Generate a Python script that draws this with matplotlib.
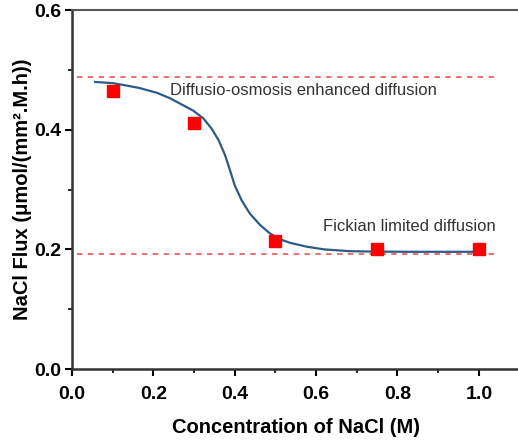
import matplotlib
matplotlib.use("Agg")
from matplotlib import pyplot as plt
from matplotlib.ticker import MultipleLocator

plt.rcParams["font.family"] = ["Liberation Sans", "DejaVu Sans"]

# measured points
conc = [0.1, 0.3, 0.5, 0.75, 1.0]
flux = [0.465, 0.411, 0.214, 0.2005, 0.200]

# fitted curve
fit_x = [0.057, 0.100, 0.126, 0.165, 0.208, 0.240, 0.265, 0.298, 0.323, 0.343,
         0.360, 0.376, 0.388, 0.400, 0.417, 0.437, 0.462, 0.486, 0.511, 0.536,
         0.577, 0.620, 0.683, 0.750, 0.850, 1.000]
fit_y = [0.480, 0.478, 0.475, 0.470, 0.462, 0.453, 0.444, 0.432, 0.419, 0.402,
         0.383, 0.358, 0.333, 0.307, 0.282, 0.260, 0.241, 0.227, 0.217, 0.211,
         0.2045, 0.200, 0.197, 0.1963, 0.196, 0.196]

# regime reference levels
upper_level = 0.489
lower_level = 0.193
level_span = [0.012, 1.045]

fig = plt.figure(figsize=(5.18, 4.43), dpi=100)
ax = fig.add_axes([0.139, 0.167, 0.864, 0.810])

ax.plot(level_span, [upper_level, upper_level], color="#e86462", linestyle=(0, (3, 3)), linewidth=1.3)
ax.plot(level_span, [lower_level, lower_level], color="#e86462", linestyle=(0, (3, 3)), linewidth=1.3)
ax.plot(fit_x, fit_y, color="#2d5b86", linewidth=1.6, solid_joinstyle="round")
ax.plot(conc, flux, linestyle="none", marker="s", markersize=9, color="#ff0000")

ax.text(0.24, 0.466, "Diffusio-osmosis enhanced diffusion", fontsize=12, color="#333333",
        ha="left", va="center")
ax.text(0.617, 0.238, "Fickian limited diffusion", fontsize=12, color="#333333",
        ha="left", va="center")

ax.set_xlim(0, 1.1)
ax.set_ylim(0, 0.6)
ax.xaxis.set_minor_locator(MultipleLocator(0.1))
ax.yaxis.set_major_locator(MultipleLocator(0.2))
ax.yaxis.set_minor_locator(MultipleLocator(0.1))
ax.set_xticks([0.0, 0.2, 0.4, 0.6, 0.8, 1.0])
ax.tick_params(which="major", direction="out", length=5, width=1.5, labelsize=14)
ax.tick_params(axis="x", which="major", pad=7)
ax.tick_params(axis="y", which="major", pad=3)
ax.tick_params(which="minor", direction="out", length=3, width=1.2)
for lab in ax.get_xticklabels() + ax.get_yticklabels():
    lab.set_fontweight("bold")

ax.spines["right"].set_visible(False)
for side in ("left", "bottom"):
    ax.spines[side].set_linewidth(1.8)
    ax.spines[side].set_color("#333333")
ax.spines["top"].set_linewidth(1.5)
ax.spines["top"].set_color("#555555")

ax.set_xlabel("Concentration of NaCl (M)", fontsize=14.5, fontweight="bold", labelpad=11)
ax.set_ylabel("NaCl Flux (\u03bcmol/(mm\u00b2.M.h))", fontsize=14.5, fontweight="bold", labelpad=1)

fig.savefig("out.png", dpi=100)
